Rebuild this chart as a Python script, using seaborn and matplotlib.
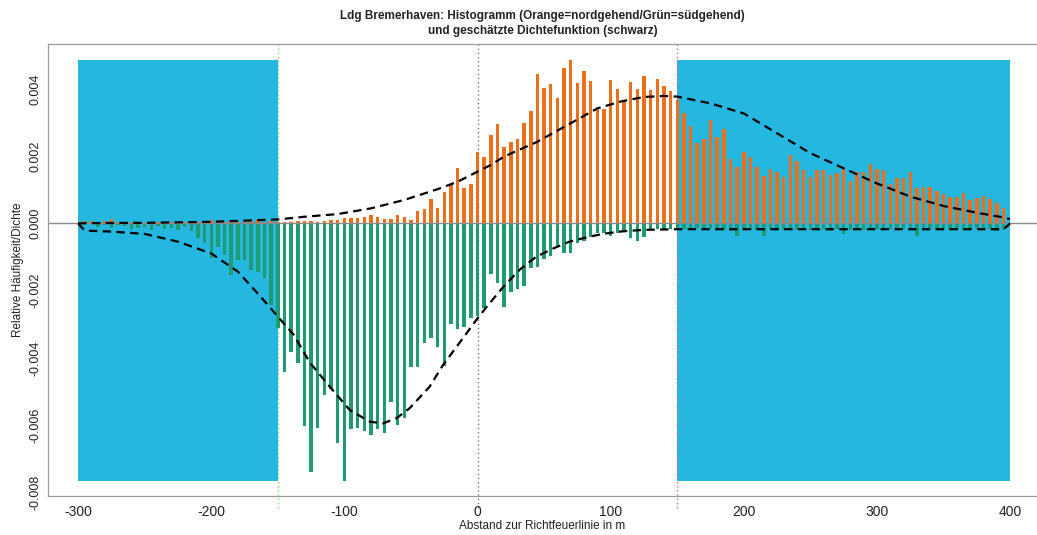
import numpy as np
import pandas as pd
import matplotlib
matplotlib.use("Agg")
import matplotlib.pyplot as plt
import seaborn as sns

sns.set_theme(style="white")
plt.rcParams['font.family'] = ['Liberation Sans', 'DejaVu Sans']
plt.rcParams['axes.unicode_minus'] = False
plt.rcParams['lines.dashed_pattern'] = [3.8, 2.4]

# Histogram classes (5 m) along the leading line
abstand = np.arange(-300, 400, 5)

# relative frequencies in units of 1e-3
nord_e3 = [
    0.02, 0.06, 0.07, 0.05, 0.08, 0.12, 0.05, 0.04, 0.03, 0.03,
    0.02, 0.03, 0.04, 0.03, 0.05, 0.03, 0.04, 0.06, 0.03, 0.05,
    0.09, 0.05, 0.04, 0.06, 0.03, 0.05, 0.07, 0.12, 0.04, 0.06,
    0.05, 0.03, 0.04, 0.06, 0.07, 0.08, 0.04, 0.08, 0.11, 0.11,
    0.16, 0.17, 0.17, 0.18, 0.24, 0.19, 0.14, 0.14, 0.24, 0.18,
    0.11, 0.37, 0.42, 0.74, 0.47, 0.94, 1.13, 1.64, 1.05, 1.18,
    2.13, 1.97, 2.62, 2.95, 2.28, 2.43, 2.50, 3.00, 3.35, 4.44,
    4.02, 4.14, 3.72, 4.61, 4.86, 4.17, 4.54, 4.23, 3.47, 3.40,
    4.26, 4.00, 3.62, 4.21, 3.99, 4.39, 3.97, 4.29, 4.10, 3.95,
    3.68, 3.27, 2.90, 2.40, 2.50, 3.08, 2.58, 2.80, 1.91, 1.67,
    2.13, 1.99, 1.67, 1.42, 1.62, 1.54, 1.39, 2.04, 1.86, 1.59,
    1.37, 1.59, 1.59, 1.44, 1.49, 1.61, 1.27, 1.54, 1.54, 1.76,
    1.62, 1.59, 1.17, 1.36, 1.34, 1.52, 1.05, 1.08, 1.07, 0.97,
    0.88, 0.78, 0.80, 0.92, 0.70, 0.75, 0.83, 0.72, 0.60, 0.47,
]
sued_e3 = [
    -0.02, -0.03, -0.02, -0.10, -0.05, -0.12, -0.04, -0.08, -0.15, -0.12,
    -0.10, -0.18, -0.08, -0.15, -0.12, -0.20, -0.10, -0.22, -0.44, -0.59,
    -1.03, -0.69, -0.94, -1.53, -1.08, -1.08, -1.38, -1.43, -1.63, -2.42,
    -3.11, -4.40, -3.81, -4.16, -6.02, -7.39, -6.09, -5.10, -4.93, -6.53,
    -7.64, -6.11, -6.09, -6.17, -6.29, -6.11, -6.22, -5.30, -6.00, -5.79,
    -4.27, -4.27, -3.56, -3.39, -3.66, -4.22, -3.00, -3.15, -3.07, -2.82,
    -2.75, -2.51, -1.50, -1.78, -2.49, -2.03, -1.96, -1.86, -1.33, -1.28,
    -1.06, -0.98, -0.69, -0.87, -0.89, -0.57, -0.51, -0.39, -0.29, -0.27,
    -0.37, -0.29, -0.25, -0.44, -0.51, -0.39, -0.17, -0.15, -0.15, -0.15,
    -0.15, -0.15, -0.18, -0.12, -0.20, -0.16, -0.14, -0.19, -0.22, -0.38,
    -0.18, -0.15, -0.20, -0.36, -0.17, -0.14, -0.19, -0.16, -0.20, -0.15,
    -0.18, -0.13, -0.17, -0.21, -0.16, -0.32, -0.18, -0.15, -0.19, -0.14,
    -0.17, -0.20, -0.16, -0.18, -0.15, -0.19, -0.37, -0.17, -0.14, -0.19,
    -0.16, -0.18, -0.15, -0.20, -0.17, -0.14, -0.19, -0.16, -0.22, -0.18,
]

# estimated density curves (units of 1e-3)
dichte_nord_x = [-300, -295, -250, -200, -150, -130, -105, -80, -55, -30, -15, 0,
                 10, 20, 45, 70, 90, 107, 125, 140, 150, 175, 200, 225, 250, 275,
                 300, 325, 350, 375, 395, 400]
dichte_nord_e3 = [0.00, 0.01, 0.02, 0.05, 0.12, 0.20, 0.28, 0.45, 0.70, 1.02, 1.24, 1.54,
                  1.74, 1.99, 2.43, 2.98, 3.42, 3.62, 3.76, 3.79, 3.77, 3.57, 3.27, 2.68,
                  2.09, 1.64, 1.19, 0.80, 0.52, 0.32, 0.18, 0.13]
dichte_sued_x = [-300, -295, -275, -250, -225, -200, -180, -163, -151, -138, -126, -111,
                 -96, -81, -71, -61, -51, -36, -26, -11, -1, 8, 19, 32, 44, 57, 69, 82,
                 94, 107, 124, 150, 200, 300, 395, 400]
dichte_sued_e3 = [0.00, -0.21, -0.24, -0.31, -0.54, -0.89, -1.43, -2.17, -2.72, -3.31,
                  -4.13, -4.85, -5.54, -5.89, -5.94, -5.79, -5.49, -4.85, -4.21, -3.41,
                  -2.87, -2.42, -1.90, -1.36, -0.99, -0.74, -0.54, -0.41, -0.31, -0.24,
                  -0.19, -0.17, -0.17, -0.17, -0.17, 0.00]

x_ticks = [-300, -200, -100, 0, 100, 200, 300, 400]
y_ticks = [-0.008, -0.006, -0.004, -0.002, 0.000, 0.002, 0.004]

ORANGE = "#EC6F1C"
GREEN = "#1F9B73"
CYAN = "#24B7E0"

df = pd.DataFrame({
    "abstand": abstand,
    "nord": np.array(nord_e3) * 1e-3,
    "sued": np.array(sued_e3) * 1e-3,
})

fig = plt.figure(figsize=(10.37, 5.35), dpi=100)
ax = fig.add_axes([48 / 1037, 1 - 496 / 535, 989 / 1037, 452 / 535])

ylo, yhi = -0.008098, 0.005334
ax.set_xlim(-322.6, 420.2)
ax.set_ylim(ylo, yhi)

# shaded areas outside the fairway, spanning the data range
ymin_data = df["sued"].min()
ymax_data = df["nord"].max()
for x0, x1 in [(-300, -150), (150, 400)]:
    ax.fill_between([x0, x1], ymin_data, ymax_data, color=CYAN, lw=0, zorder=0.5)

# reference lines
for xv, col in [(-150, "#6EE86E"), (0, "#777777"), (150, "#E86A6A")]:
    ax.plot([xv, xv], [yhi, -0.0085], ls=(0, (1, 2)), color=col, lw=1.0,
            clip_on=False, zorder=0.8)

sns.barplot(data=df, x="abstand", y="nord", native_scale=True, color=ORANGE,
            width=0.52, linewidth=0, errorbar=None, saturation=1, ax=ax, zorder=1)
sns.barplot(data=df, x="abstand", y="sued", native_scale=True, color=GREEN,
            width=0.52, linewidth=0, errorbar=None, saturation=1, ax=ax, zorder=1)

ax.axhline(0, color="#8a8a8a", lw=1.0, zorder=2.5)

sns.lineplot(x=dichte_nord_x, y=np.array(dichte_nord_e3) * 1e-3, color="black",
             linestyle="--", linewidth=1.6, ax=ax, zorder=3)
sns.lineplot(x=dichte_sued_x, y=np.array(dichte_sued_e3) * 1e-3, color="black",
             linestyle="--", linewidth=1.6, ax=ax, zorder=3)

ax.set_xlim(-322.6, 420.2)
ax.set_ylim(ylo, yhi)
ax.set_xticks(x_ticks)
ax.set_xticklabels([str(v) for v in x_ticks], fontsize=10)
ax.set_yticks(y_ticks)
ax.set_yticklabels([f"{v:.3f}" for v in y_ticks], rotation=90, va="center", fontsize=9)

for side in ["left", "top", "bottom"]:
    ax.spines[side].set_color("#9a9a9a")
    ax.spines[side].set_linewidth(0.9)
ax.spines["right"].set_visible(False)
ax.tick_params(axis="both", direction="out", length=4, width=0.8, color="#9a9a9a",
               labelcolor="#222222")
ax.tick_params(axis="x", pad=2.5)
ax.tick_params(axis="y", pad=1)

ax.set_xlabel("Abstand zur Richtfeuerlinie in m", fontsize=8.5, color="#222222")
ax.xaxis.set_label_coords(0.5, -0.053)
ax.set_ylabel("Relative Häufigkeit/Dichte", fontsize=8.5, color="#222222")
ax.yaxis.set_label_coords(-0.024, 0.5)

ax.set_title("Ldg Bremerhaven: Histogramm (Orange=nordgehend/Grün=südgehend)\n"
             "und geschätzte Dichtefunktion (schwarz)",
             fontsize=8.5, fontweight="bold", color="#222222", pad=7, linespacing=1.35)

fig.savefig("out.png", dpi=100)
